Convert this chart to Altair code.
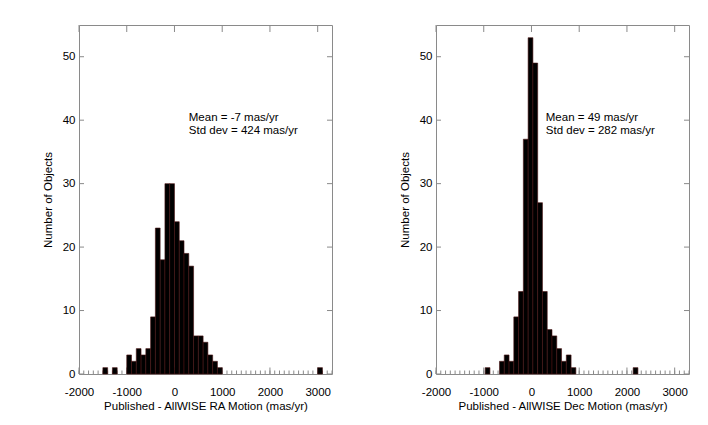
import altair as alt
import pandas as pd

# ---------------- data ----------------
BIN_WIDTH = 100

ra_bin_start = [-1500, -1300, -1000, -900, -800, -700, -600, -500, -400, -300, -200, -100,
                0, 100, 200, 300, 400, 500, 600, 700, 800, 900, 3000]
ra_counts = [1, 1, 3, 2, 4, 3, 4, 9, 23, 18, 30, 30,
             24, 21, 19, 17, 6, 6, 5, 3, 2, 1, 1]

dec_bin_start = [-970, -670, -570, -470, -370, -270, -170, -70, 30, 130, 230, 330,
                 430, 530, 630, 730, 830, 2130]
dec_counts = [1, 2, 3, 2, 9, 13, 37, 53, 49, 27, 13, 7,
              6, 4, 2, 3, 1, 1]

x_major_ticks = [-2000, -1000, 0, 1000, 2000, 3000]
x_minor_ticks = list(range(-2000, 3301, 100))
y_ticks = [0, 10, 20, 30, 40, 50]

ra_stats = ["Mean = -7 mas/yr", "Std dev = 424 mas/yr"]
dec_stats = ["Mean = 49 mas/yr", "Std dev = 282 mas/yr"]
stats_x = [300, 300]
stats_y = [40.4, 38.3]

ra_title = "Published - AllWISE RA Motion (mas/yr)"
dec_title = "Published - AllWISE Dec Motion (mas/yr)"
y_title = "Number of Objects"

# ---------------- style ----------------
W, H = 253, 349
FONT = "Liberation Sans"
GRAY = "#8a8a8a"
X_DOMAIN = [-2000, 3300]
Y_DOMAIN = [0, 55]


def panel(bins, counts, xtitle, stats):
    df = pd.DataFrame({"start": bins, "count": counts})
    df["end"] = df["start"] + BIN_WIDTH

    xs = alt.Scale(domain=X_DOMAIN, nice=False, zero=False)
    ys = alt.Scale(domain=Y_DOMAIN, nice=False, zero=False)

    x_axis = alt.Axis(values=x_major_ticks, ticks=False, tickSize=0, domain=False, grid=False,
                      labelPadding=12, titlePadding=3, labelFlush=False,
                      labelExpr="datum.value + ''")
    y_axis = alt.Axis(values=y_ticks, ticks=False, tickSize=0, domain=False, grid=False,
                      labelPadding=4, titlePadding=9, labelExpr="datum.value + ''")

    def X(field):
        return alt.X(field, scale=xs, axis=x_axis, title=xtitle)

    def Y(field):
        return alt.Y(field, scale=ys, axis=y_axis, title=y_title)

    major = pd.DataFrame({"v": x_major_ticks})
    minor = pd.DataFrame({"v": x_minor_ticks})
    yt = pd.DataFrame({"v": y_ticks})

    top_ticks = alt.Chart(major).mark_rule(color=GRAY, strokeWidth=1).encode(
        x=X("v:Q"), y=alt.value(0), y2=alt.value(7))
    bot_major = alt.Chart(major).mark_rule(color=GRAY, strokeWidth=1).encode(
        x=X("v:Q"), y=alt.value(H), y2=alt.value(H - 6.5))
    bot_minor = alt.Chart(minor).mark_rule(color=GRAY, strokeWidth=1).encode(
        x=X("v:Q"), y=alt.value(H), y2=alt.value(H - 3.5))
    left_ticks = alt.Chart(yt).mark_rule(color=GRAY, strokeWidth=1).encode(
        y=Y("v:Q"), x=alt.value(0), x2=alt.value(5))
    right_ticks = alt.Chart(yt).mark_rule(color=GRAY, strokeWidth=1).encode(
        y=Y("v:Q"), x=alt.value(W), x2=alt.value(W - 5))

    bars = alt.Chart(df).mark_rect(fill="black", stroke="#4a1212", strokeWidth=0.6).encode(
        x=X("start:Q"),
        x2="end:Q",
        y=Y("count:Q"),
        y2=alt.datum(0),
    )

    sdf = pd.DataFrame({"x": stats_x, "y": stats_y, "t": stats})
    text = alt.Chart(sdf).mark_text(align="left", baseline="middle", font=FONT,
                                    fontSize=11.5, color="black").encode(
        x=X("x:Q"),
        y=Y("y:Q"),
        text="t:N",
    )

    return alt.layer(top_ticks, bot_major, bot_minor, left_ticks, right_ticks, bars, text).properties(
        width=W, height=H)


left = panel(ra_bin_start, ra_counts, ra_title, ra_stats)
right = panel(dec_bin_start, dec_counts, dec_title, dec_stats)

chart = alt.hconcat(left, right, spacing=65).properties(
    padding={"left": 33, "top": 16, "right": 0, "bottom": 0},
    background="white",
).configure_view(
    stroke=GRAY, strokeWidth=1
).configure_axis(
    labelFont=FONT, titleFont=FONT, labelFontSize=11.5, titleFontSize=11.5,
    labelColor="black", titleColor="black", titleFontWeight="normal",
)

chart.save("out.html", embed_options={"renderer": "svg", "actions": False})
